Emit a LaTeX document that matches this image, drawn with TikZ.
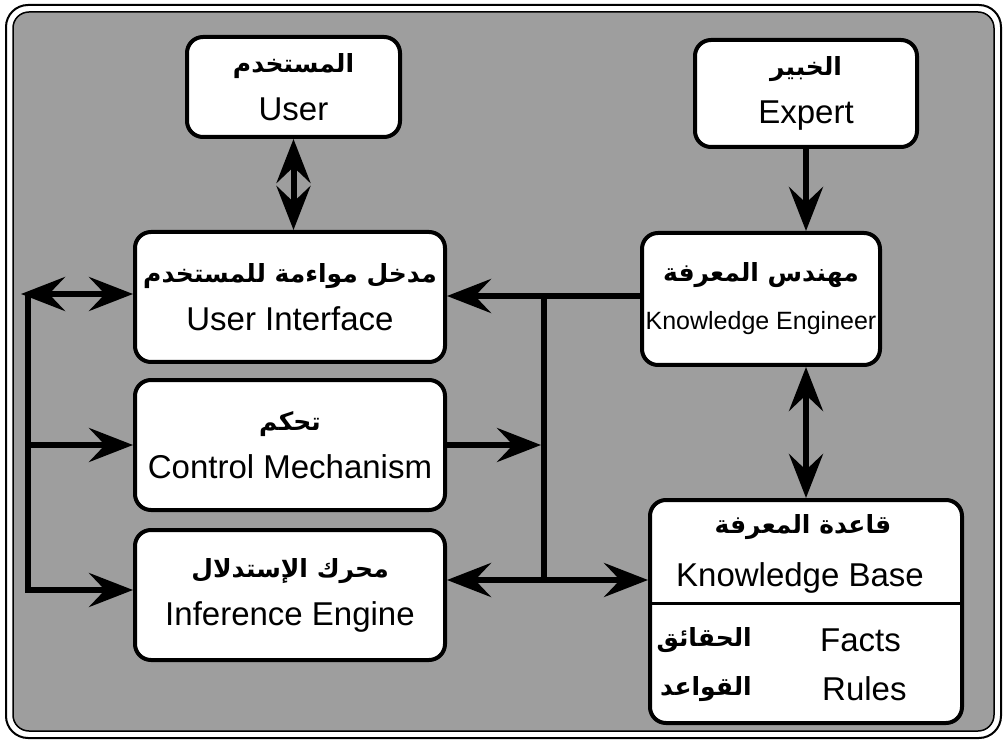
\documentclass[tikz,border=0pt]{standalone}
\usepackage{fontspec}
\setmainfont{Liberation Sans}
\newfontfamily\arabicfont[Script=Arabic]{DejaVu Sans}
\TeXXeTstate=1
\usetikzlibrary{arrows.meta,calc}
\newcommand{\artxt}[1]{{\arabicfont\bfseries\fontsize{25}{30}\selectfont\beginR #1\endR}}
\begin{document}
\begin{tikzpicture}[x=1pt,y=-1pt,
  box/.style={draw, line width=4pt, rounded corners=16pt, fill=white, align=center, inner sep=0pt, font=\fontsize{33}{48}\selectfont},
  txt/.style={inner sep=0pt, font=\fontsize{33}{40}\selectfont},
  conn/.style={line width=6pt},
  tip/.tip={Stealth[length=44pt,width=34pt,inset=16pt]},
  arr/.style={conn, -tip},
  dbl/.style={conn, tip-tip}]
\useasboundingbox (0,0) rectangle (1007,743);
% frame
\draw[line width=2pt, rounded corners=22pt] (6,5) rectangle (1001,738);
\draw[line width=1.5pt, rounded corners=16pt, fill=black!38] (13,12) rectangle (994,731);
% boxes
\node[box, minimum width=213pt, minimum height=100pt] (User) at (293.5,87) {\artxt{المستخدم}\\User};
\node[box, minimum width=222pt, minimum height=107pt] (Expert) at (806,93.5) {\artxt{الخبير}\\Expert};
\node[box, minimum width=310pt, minimum height=130pt] (UI) at (290,297) {\artxt{مدخل مواءمة للمستخدم}\\User Interface};
\node[box, minimum width=310pt, minimum height=130pt] (CM) at (290,445) {\artxt{تحكم}\\Control Mechanism};
\node[box, minimum width=310pt, minimum height=130pt] (IE) at (290,595) {\artxt{محرك الإستدلال}\\Inference Engine};
\node[box, minimum width=238pt, minimum height=132pt, font=\fontsize{25}{48}\selectfont] (KE) at (761,299) {\artxt{مهندس المعرفة}\\Knowledge Engineer};
\node[box, minimum width=312pt, minimum height=223pt] (KB) at (806,611.5) {};
\node[txt] (kbAr) at (803,527) {\artxt{قاعدة المعرفة}};
\node[txt] (kbEn) at (800,578) {Knowledge Base};
\draw[line width=3pt] (KB.west |- 0,603) -- (KB.east |- 0,603);
\node[txt, anchor=east] (factsAr) at (752,640) {\artxt{الحقائق}};
\node[txt, anchor=west] (facts) at (820,640) {Facts};
\node[txt, anchor=east] (rulesAr) at (752,689) {\artxt{القواعد}};
\node[txt, anchor=west] (rules) at (822,689) {Rules};
% connectors
\draw[dbl] (User.south) -- (User.south |- UI.north);
\draw[arr] (Expert.south) -- (Expert.south |- KE.north);
\draw[dbl] (Expert.south |- KE.south) -- (Expert.south |- KB.north);
\coordinate (busTip) at (21,294);
\coordinate (busTop) at (28,294);
\coordinate (busBot) at (28,590);
\draw[dbl] (busTip) -- (busTip -| UI.west);
\draw[conn] (busTop) -- ([yshift=-3pt]busBot);
\draw[arr] (busTop |- CM.west) -- (CM.west);
\draw[arr] ([xshift=-3pt]busBot) -- (busBot -| IE.west);
\coordinate (jTop) at (544,296);
\coordinate (jBot) at (544,580);
\draw[arr] (KE.west |- jTop) -- (jTop -| UI.east);
\draw[conn] (jTop) -- (jBot);
\draw[arr] (CM.east) -- ([xshift=-3pt]CM.east -| jTop);
\draw[dbl] (IE.east |- jBot) -- (jBot -| KB.west);
\end{tikzpicture}
\end{document}
